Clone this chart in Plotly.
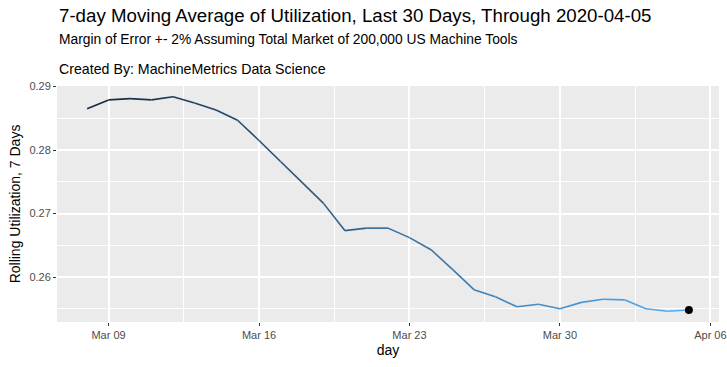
import plotly.graph_objects as go
import pandas as pd

# ---- data ----
start_date = "2020-03-08"
end_date = "2020-04-05"
days = pd.date_range(start_date, end_date, freq="D")
utilization = [
    0.2865, 0.2879, 0.2881, 0.2879, 0.2884, 0.2874, 0.2863, 0.2847,
    0.2815, 0.2782, 0.2749, 0.2716, 0.2673, 0.2677, 0.2677, 0.2662,
    0.2643, 0.2612, 0.2580, 0.2569, 0.2553, 0.2557, 0.2550, 0.2560,
    0.2565, 0.2564, 0.2550, 0.2546, 0.2548,
]
x_tick_vals = ["2020-03-09", "2020-03-16", "2020-03-23", "2020-03-30", "2020-04-06"]
x_tick_text = ["Mar 09", "Mar 16", "Mar 23", "Mar 30", "Apr 06"]
y_tick_vals = [0.26, 0.27, 0.28, 0.29]
y_tick_text = ["0.26", "0.27", "0.28", "0.29"]

title = "7-day Moving Average of Utilization, Last 30 Days, Through 2020-04-05"
subtitle = "Margin of Error +- 2% Assuming Total Market of 200,000 US Machine Tools"
caption = "Created By: MachineMetrics Data Science"

# ---- colour gradient (ggplot default continuous scale) ----
low = (0x13, 0x2B, 0x43)
high = (0x56, 0xB1, 0xF7)


def grad(t):
    r, g, b = (round(low[k] + (high[k] - low[k]) * t) for k in range(3))
    return f"rgb({r},{g},{b})"


fig = go.Figure()
n = len(days)
for i in range(n - 1):
    fig.add_trace(go.Scatter(
        x=[days[i], days[i + 1]],
        y=[utilization[i], utilization[i + 1]],
        mode="lines",
        line=dict(color=grad(i / (n - 1)), width=1.6),
        showlegend=False, hoverinfo="skip",
    ))

fig.add_trace(go.Scatter(
    x=[days[-1]], y=[utilization[-1]], mode="markers",
    marker=dict(color="black", size=8), showlegend=False,
))

# ggplot-style 5% expansion
span = days[-1] - days[0]
x_lo = days[0] - span * 0.05
x_hi = days[-1] + span * 0.05
y_min, y_max = min(utilization), max(utilization)
y_pad = (y_max - y_min) * 0.05

font_family = "Liberation Sans, Arial, sans-serif"

fig.update_layout(
    width=727, height=367,
    margin=dict(l=57, r=8, t=86, b=45),
    paper_bgcolor="white",
    plot_bgcolor="#EBEBEB",
    font=dict(family=font_family, color="black"),
    xaxis=dict(
        range=[x_lo, x_hi], automargin=False,
        tickvals=x_tick_vals, ticktext=x_tick_text,
        tickfont=dict(size=11, color="#4D4D4D"),
        ticks="outside", ticklen=3, tickcolor="#333333", tickwidth=1,
        showgrid=True, gridcolor="white", gridwidth=1.6,
        minor=dict(dtick=302400000, tick0="2020-03-09", showgrid=True,
                   gridcolor="white", gridwidth=0.8, ticks=""),
        zeroline=False, showline=False,
        title=dict(text="day", font=dict(size=14), standoff=4),
    ),
    yaxis=dict(
        range=[y_min - y_pad, y_max + y_pad], automargin=False,
        tickvals=y_tick_vals, ticktext=y_tick_text,
        tickfont=dict(size=11, color="#4D4D4D"),
        ticks="outside", ticklen=3, tickcolor="#333333", tickwidth=1,
        showgrid=True, gridcolor="white", gridwidth=1.6,
        minor=dict(dtick=0.005, tick0=0.25, showgrid=True,
                   gridcolor="white", gridwidth=0.8, ticks=""),
        zeroline=False, showline=False,
        title=dict(text="Rolling Utilization, 7 Days", font=dict(size=14), standoff=5),
    ),
)

ph = 367 - 86 - 45


def ypos(pix):
    return 1 + (86 - pix) / ph


fig.add_annotation(text=title, xref="paper", yref="paper", x=0, y=ypos(15),
                   xanchor="left", yanchor="middle", showarrow=False,
                   font=dict(size=18.7, color="black"))
fig.add_annotation(text=subtitle, xref="paper", yref="paper", x=0, y=ypos(39),
                   xanchor="left", yanchor="middle", showarrow=False,
                   font=dict(size=13.8, color="black"))
fig.add_annotation(text=caption, xref="paper", yref="paper", x=0, y=ypos(69),
                   xanchor="left", yanchor="middle", showarrow=False,
                   font=dict(size=14.2, color="black"))

fig.write_html("out.html", config={"displayModeBar": False},
               post_script="document.body.style.margin='0';document.body.style.overflow='hidden';")
